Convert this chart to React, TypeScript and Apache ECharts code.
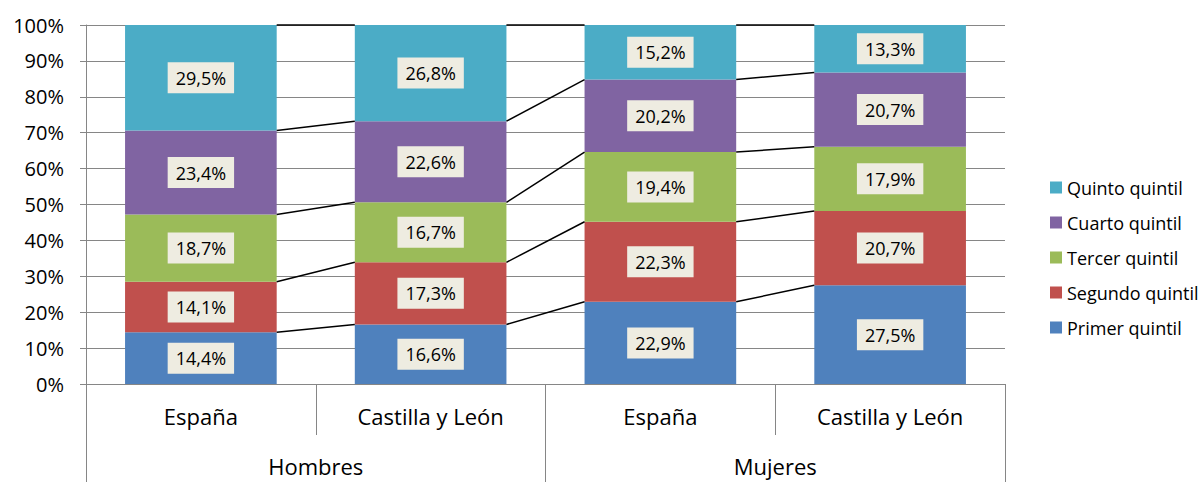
import React, { useEffect, useRef } from "react";
import * as echarts from "echarts";

const categories = ["España", "Castilla y León", "España", "Castilla y León"];
const groups = ["Hombres", "Mujeres"];
const seriesNames = ["Primer quintil", "Segundo quintil", "Tercer quintil", "Cuarto quintil", "Quinto quintil"];
const colors = ["#4F81BD", "#C0504D", "#9BBB59", "#8064A2", "#4BACC6"];
const primer = [14.4, 16.6, 22.9, 27.5];
const segundo = [14.1, 17.3, 22.3, 20.7];
const tercer = [18.7, 16.7, 19.4, 17.9];
const cuarto = [23.4, 22.6, 20.2, 20.7];
const quinto = [29.5, 26.8, 15.2, 13.3];
const yTicks = [0, 10, 20, 30, 40, 50, 60, 70, 80, 90, 100];

const values = [primer, segundo, tercer, cuarto, quinto];
const BAR_RATIO = 0.66;
const FONT = "'Open Sans', 'Noto Sans', sans-serif";

export default function App() {
  const ref = useRef<HTMLDivElement>(null);
  useEffect(() => {
    if (!ref.current) return;
    const chart = echarts.init(ref.current, undefined, { renderer: "svg" });

    const cum: number[][] = [];
    for (let c = 0; c < categories.length; c++) {
      let s = 0;
      const arr: number[] = [];
      for (let k = 0; k < values.length; k++) {
        s += values[k][c];
        arr.push(Math.min(100, s));
      }
      cum.push(arr);
    }
    const lineData: number[][] = [];
    for (let i = 0; i < categories.length - 1; i++) {
      for (let k = 0; k < values.length; k++) {
        lineData.push([i, cum[i][k], cum[i + 1][k]]);
      }
    }

    const barSeries = seriesNames.map((name, k) => ({
      name,
      type: "bar",
      stack: "total",
      barWidth: BAR_RATIO * 100 + "%",
      data: values[k],
      itemStyle: { color: colors[k] },
      label: {
        show: true,
        position: "inside",
        backgroundColor: "#EEECE1",
        padding: [7, 8, 6, 8],
        color: "#000",
        fontSize: 18,
        fontFamily: FONT,
        formatter: (p: any) => p.value.toFixed(1).replace(".", ",") + "%",
      },
    }));

    chart.setOption({
      animation: false,
      textStyle: { fontFamily: FONT },
      grid: { left: 86, right: 195, top: 25, bottom: 98, containLabel: false },
      legend: {
        orient: "vertical",
        left: 1045,
        top: 170,
        itemWidth: 12,
        itemHeight: 12,
        itemGap: 10,
        icon: "rect",
        data: seriesNames.slice().reverse(),
        textStyle: { fontSize: 18, color: "#000", fontFamily: FONT, lineHeight: 25 },
      },
      xAxis: [
        {
          type: "category",
          data: categories,
          position: "bottom",
          axisLine: { show: true, lineStyle: { color: "#868686", width: 1 } },
          axisTick: { show: true, interval: 0, length: 51, lineStyle: { color: "#868686" } },
          axisLabel: { interval: 0, margin: 21, fontSize: 22, color: "#000", fontFamily: FONT },
        },
        {
          type: "category",
          data: groups,
          position: "bottom",
          axisLine: { show: false },
          axisTick: { show: true, interval: 0, length: 100, lineStyle: { color: "#868686" } },
          axisLabel: { interval: 0, margin: 71, fontSize: 22, color: "#000", fontFamily: FONT },
        },
      ],
      yAxis: {
        type: "value",
        min: 0,
        max: 100,
        interval: 10,
        axisLine: { show: true, lineStyle: { color: "#868686" } },
        axisTick: { show: true, length: 6, lineStyle: { color: "#868686" } },
        axisLabel: {
          formatter: (v: number) => (yTicks.includes(v) ? v + "%" : ""),
          fontSize: 20,
          color: "#000",
          margin: 22,
          fontFamily: FONT,
        },
        splitLine: { show: true, lineStyle: { color: "#868686", width: 1 } },
      },
      series: [
        ...barSeries,
        {
          type: "custom",
          name: "lines",
          xAxisIndex: 0,
          z: 5,
          data: lineData,
          encode: { x: 0, y: [1, 2] },
          renderItem: (params: any, api: any) => {
            const i = api.value(0);
            const p1 = api.coord([i, api.value(1)]);
            const p2 = api.coord([i + 1, api.value(2)]);
            const half = (api.size([1, 0])[0] * BAR_RATIO) / 2;
            return {
              type: "line",
              shape: { x1: p1[0] + half, y1: p1[1], x2: p2[0] - half, y2: p2[1] },
              style: { stroke: "#000", lineWidth: 1.5 },
            };
          },
        },
      ],
    });
    return () => chart.dispose();
  }, []);
  return (
    <div
      ref={ref}
      style={{ position: "fixed", left: 0, top: 0, width: 1200, height: 482, background: "#fff" }}
    />
  );
}
